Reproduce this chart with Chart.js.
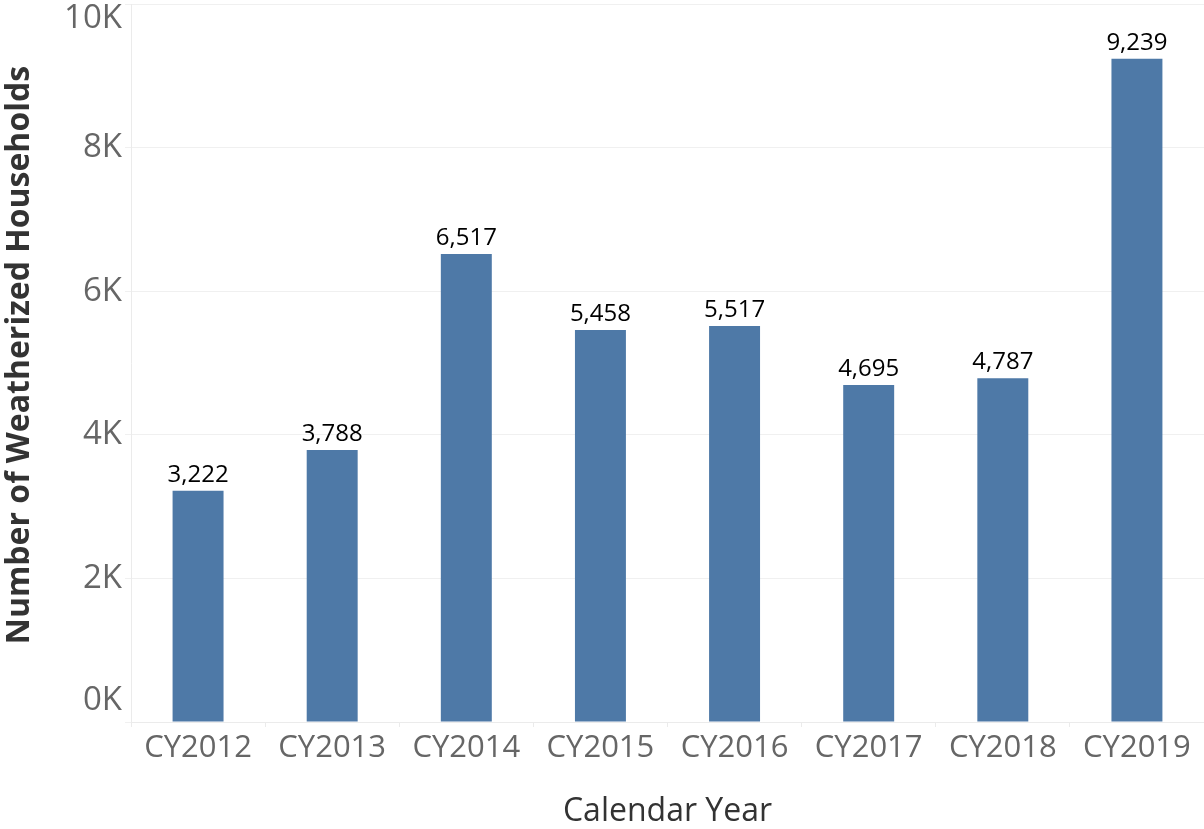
<!DOCTYPE html>
<html>
<head>
<meta charset="utf-8">
<script src="https://cdn.jsdelivr.net/npm/chart.js@4.4.1/dist/chart.umd.min.js"></script>
<style>
  html, body { margin: 0; padding: 0; background: #fff; }
  #wrap { width: 1204px; height: 829px; }
</style>
</head>
<body>
<div id="wrap"><canvas id="c" width="1204" height="829"></canvas></div>
<script>
const categories = ['CY2012', 'CY2013', 'CY2014', 'CY2015', 'CY2016', 'CY2017', 'CY2018', 'CY2019'];
const households = [3222, 3788, 6517, 5458, 5517, 4695, 4787, 9239];
const yTickValues = [0, 2000, 4000, 6000, 8000, 10000];
const yTickLabels = ['0K', '2K', '4K', '6K', '8K', '10K'];
const yTitle = 'Number of Weatherized Households';
const xTitle = 'Calendar Year';

const FONT = "'Open Sans', 'Noto Sans', sans-serif";

const customDraw = {
  id: 'customDraw',
  afterDatasetsDraw(chart) {
    const ctx = chart.ctx;
    const meta = chart.getDatasetMeta(0);
    ctx.save();
    ctx.font = `500 24px ${FONT}`;
    ctx.fillStyle = '#000';
    ctx.textAlign = 'center';
    ctx.textBaseline = 'alphabetic';
    meta.data.forEach((bar, i) => {
      ctx.fillText(households[i].toLocaleString('en-US'), bar.x, bar.y - 9);
    });
    ctx.restore();
  },
  afterDraw(chart) {
    const ctx = chart.ctx;
    const ys = chart.scales.y;
    const area = chart.chartArea;
    ctx.save();
    ctx.font = `500 33px ${FONT}`;
    ctx.fillStyle = '#666';
    ctx.textAlign = 'right';
    ctx.textBaseline = 'middle';
    yTickValues.forEach((v, i) => {
      let py = ys.getPixelForValue(v);
      py = Math.max(area.top + 15, Math.min(area.bottom - 21, py));
      ctx.fillText(yTickLabels[i], 122, py);
    });
    ctx.translate(20, 355);
    ctx.rotate(-Math.PI / 2);
    ctx.textAlign = 'center';
    ctx.fillStyle = '#333';
    ctx.font = `bold 32px ${FONT}`;
    ctx.fillText(yTitle, 0, 0);
    ctx.restore();
  }
};

new Chart(document.getElementById('c'), {
  type: 'bar',
  data: {
    labels: categories,
    datasets: [{
      data: households,
      backgroundColor: '#4e79a7',
      borderWidth: 0,
      categoryPercentage: 1,
      barPercentage: 0.38
    }]
  },
  options: {
    responsive: false,
    animation: false,
    devicePixelRatio: 1,
    layout: { padding: { top: 4, right: 0, left: 0, bottom: 0 } },
    plugins: { legend: { display: false }, tooltip: { enabled: false } },
    scales: {
      x: {
        offset: true,
        grid: { display: true, drawOnChartArea: false, drawTicks: true, tickLength: 5, color: '#ebebeb', offset: true },
        border: { display: true, color: '#ebebeb' },
        ticks: { color: '#666', font: { family: FONT, size: 31, weight: '500' }, padding: 3, maxRotation: 0 },
        title: { display: true, text: xTitle, color: '#333', font: { family: FONT, size: 32, weight: '500', lineHeight: 1.1 }, padding: 0 },
        afterFit(scale) { scale.height = 107; }
      },
      y: {
        min: 0,
        max: 10000,
        afterBuildTicks(scale) { scale.ticks = yTickValues.map(v => ({ value: v })); },
        ticks: { display: false },
        grid: { color: '#f0f0f0', drawTicks: true, tickLength: 6 },
        border: { display: true, color: '#ebebeb' },
        title: { display: false },
        afterFit(scale) { scale.width = 131; }
      }
    }
  },
  plugins: [customDraw]
});
</script>
</body>
</html>
